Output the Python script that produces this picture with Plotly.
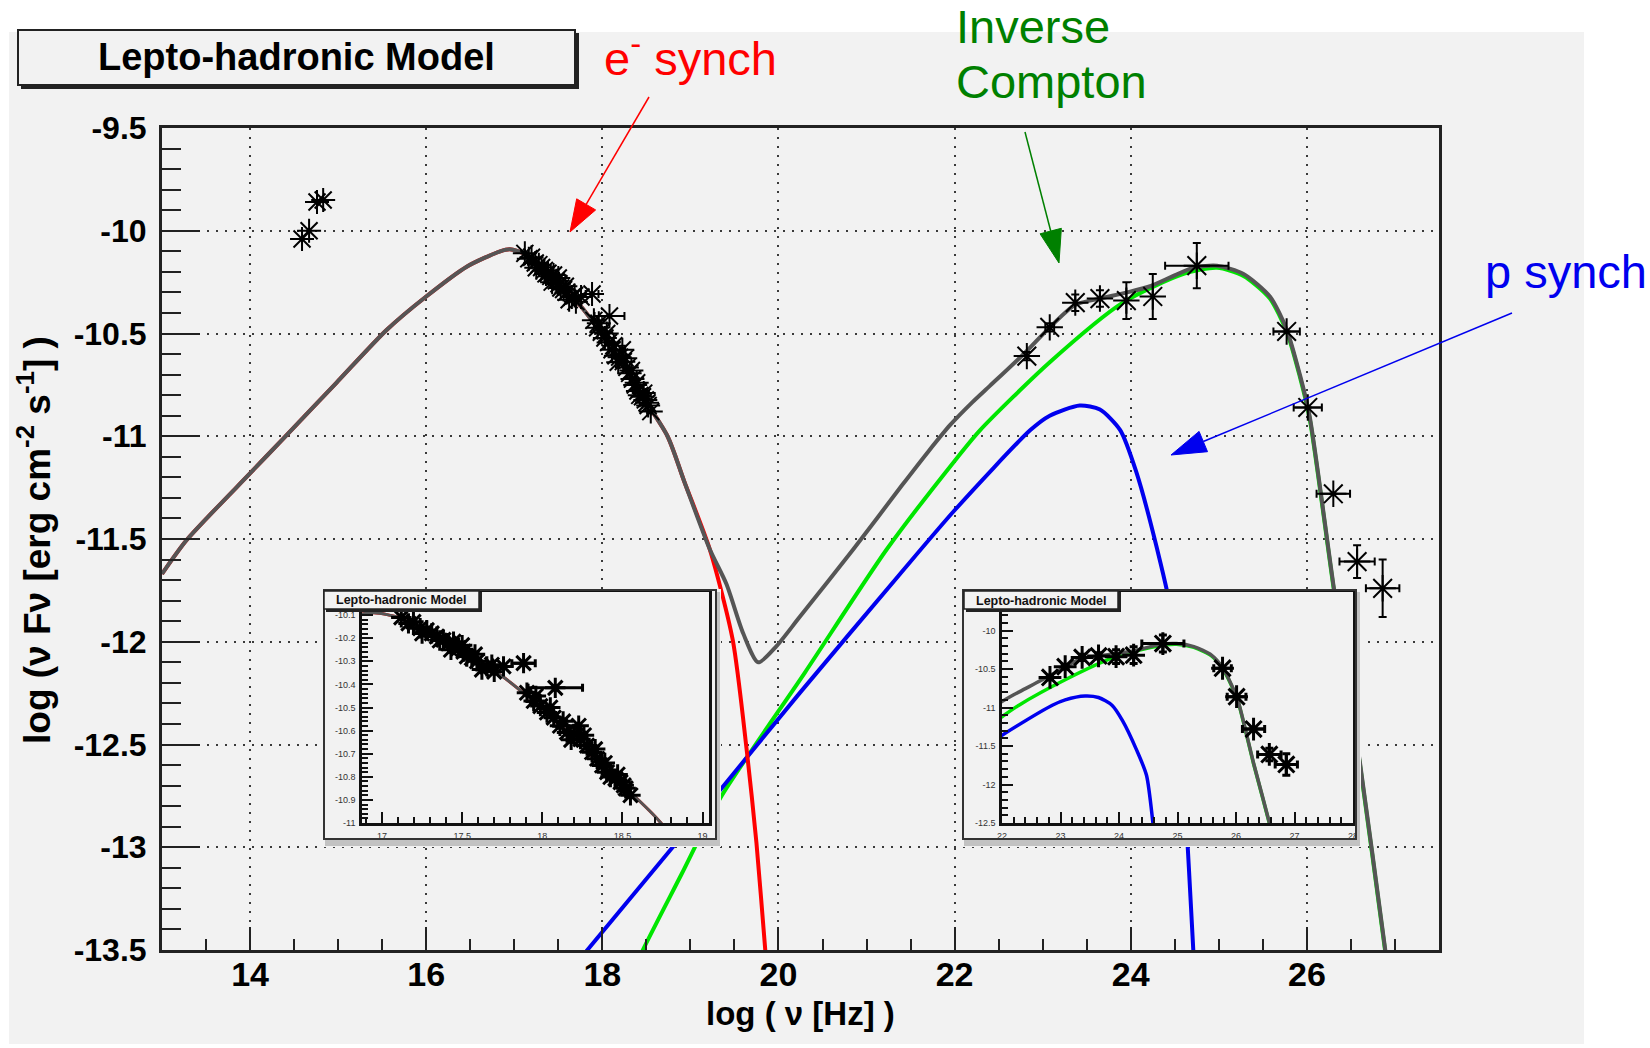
import math
import plotly.graph_objects as go

W, H = 1650, 1048

# ---------------- model curves: log10(nu / Hz) vs log10(nu F_nu) ----------------
total_x = [13.0, 13.28, 14.01, 14.38, 14.98, 15.55, 16.0, 16.46, 16.84, 16.95, 17.12, 17.45,
           17.75, 18.07, 18.38, 18.74, 18.93, 19.22, 19.41, 19.60, 19.77, 19.98, 20.24, 20.85,
           21.40, 21.70, 21.95, 22.20, 22.40, 22.82, 23.08, 23.37, 23.65, 23.96, 24.22, 24.71,
           24.98, 25.28, 25.58, 25.77, 25.92, 26.03, 26.30, 26.60, 26.89, 27.0]
total_y = [-11.67, -11.505, -11.176, -11.01, -10.74, -10.483, -10.32, -10.175, -10.10, -10.09,
           -10.114, -10.245, -10.365, -10.551, -10.758, -11.0, -11.22, -11.55, -11.72, -11.96,
           -12.10, -12.02, -11.88, -11.55, -11.24, -11.075, -10.945, -10.835, -10.755, -10.585,
           -10.47, -10.36, -10.33, -10.30, -10.27, -10.18, -10.17, -10.21, -10.32, -10.48,
           -10.70, -10.90, -11.72, -12.58, -13.5, -13.85]

esyn_x = [13.0, 13.28, 14.01, 14.38, 14.98, 15.55, 16.0, 16.46, 16.84, 16.95, 17.12, 17.45,
          17.75, 18.07, 18.38, 18.74, 18.93, 19.22, 19.48, 19.64, 19.75, 19.85, 19.90]
esyn_y = [-11.67, -11.505, -11.176, -11.01, -10.74, -10.483, -10.32, -10.175, -10.10, -10.09,
          -10.114, -10.245, -10.365, -10.551, -10.758, -11.0, -11.22, -11.55, -11.99, -12.53,
          -12.98, -13.5, -13.75]

ic_x = [18.40, 18.46, 18.90, 19.34, 20.30, 21.23, 22.00, 22.29, 23.08, 23.91, 24.60, 24.98,
        25.28, 25.58, 25.77, 25.92, 26.03, 26.30, 26.60, 26.89, 27.0]
ic_y = [-13.56, -13.5, -13.13, -12.76, -12.15, -11.55, -11.12, -10.97, -10.64, -10.35, -10.21,
        -10.18, -10.22, -10.33, -10.49, -10.71, -10.91, -11.73, -12.59, -13.51, -13.86]

psyn_x = [17.70, 17.83, 19.34, 20.24, 21.38, 22.00, 22.86, 23.08, 23.42, 23.65, 23.88, 24.06,
          24.30, 24.47, 24.58, 24.66, 24.71, 24.75]
psyn_y = [-13.57, -13.5, -12.72, -12.25, -11.67, -11.36, -10.97, -10.90, -10.85, -10.87, -10.97,
          -11.17, -11.55, -11.88, -12.50, -13.10, -13.50, -13.80]

# ---------------- measurements ----------------
opt_x = [14.59, 14.67, 14.76, 14.83]
opt_y = [-10.04, -10.00, -9.86, -9.85]

xray_x = [17.12, 17.165, 17.196, 17.238, 17.25, 17.279, 17.31, 17.342, 17.36, 17.383, 17.415,
          17.43, 17.446, 17.477, 17.50, 17.508, 17.529, 17.56, 17.58, 17.592, 17.623, 17.654,
          17.685, 17.70, 17.758, 17.883, 17.904, 17.946, 17.96, 17.988, 18.029, 18.05, 18.071,
          18.081, 18.11, 18.13, 18.154, 18.18, 18.196, 18.227, 18.238, 18.26, 18.279, 18.31,
          18.33, 18.342, 18.373, 18.39, 18.404, 18.425, 18.456, 18.47, 18.488, 18.508, 18.52,
          18.55]
xray_y = [-10.11, -10.136, -10.129, -10.157, -10.18, -10.165, -10.179, -10.193, -10.21, -10.207,
          -10.222, -10.25, -10.215, -10.243, -10.23, -10.258, -10.279, -10.286, -10.27, -10.30,
          -10.336, -10.322, -10.315, -10.345, -10.322, -10.308, -10.436, -10.472, -10.45, -10.494,
          -10.522, -10.50, -10.544, -10.415, -10.579, -10.56, -10.608, -10.64, -10.615, -10.579,
          -10.637, -10.62, -10.665, -10.694, -10.68, -10.722, -10.751, -10.74, -10.78, -10.801,
          -10.808, -10.79, -10.823, -10.837, -10.85, -10.88]
xray_xerr = [None] * 25 + [0.073] + [None] * 7 + [0.17] + [None] * 22

gam_x = [22.82, 23.08, 23.37, 23.65, 23.95, 24.25, 24.75, 25.77, 26.01, 26.30, 26.57, 26.86]
gam_y = [-10.61, -10.47, -10.35, -10.33, -10.34, -10.32, -10.17, -10.49, -10.86, -11.28,
         -11.61, -11.74]
gam_xerr = [None, 0.05, None, None, None, None, 0.36, 0.15, 0.16, 0.19, 0.20, 0.19]
gam_yerr = [0.02, 0.02, 0.04, 0.04, 0.09, 0.11, 0.11, None, None, None, 0.08, 0.14]

# ---------------- tick labels ----------------
main_xticks = [14, 16, 18, 20, 22, 24, 26]
main_yticks = [-9.5, -10, -10.5, -11, -11.5, -12, -12.5, -13, -13.5]
xin_xticks = [17, 17.5, 18, 18.5, 19]
xin_yticks = [-11, -10.9, -10.8, -10.7, -10.6, -10.5, -10.4, -10.3, -10.2, -10.1]
gin_xticks = [22, 23, 24, 25, 26, 27, 28]
gin_yticks = [-9.5, -10, -10.5, -11, -11.5, -12, -12.5]

GRAY, RED, GREEN, BLUE = "#555555", "#ff0000", "#00e600", "#0000ee"
CANVAS = "#f2f2f2"


def fx(p):
    return p / W


def fy(p):
    return 1 - p / H


def lab(v):
    return ("%g" % v)


fig = go.Figure()


def add_model(xa, ya, lw):
    for xs, ys, col in [(ic_x, ic_y, GREEN), (psyn_x, psyn_y, BLUE),
                        (esyn_x, esyn_y, RED), (total_x, total_y, GRAY)]:
        fig.add_trace(go.Scatter(x=xs, y=ys, mode="lines", xaxis=xa, yaxis=ya,
                                 line=dict(color=col, width=lw, shape="spline", smoothing=0.7),
                                 hoverinfo="skip"))


def add_points(xa, ya, xs, ys, size, lw, xerr=None, yerr=None):
    kw = {}
    if xerr is not None:
        kw["error_x"] = dict(type="data", array=xerr, color="black", thickness=lw, width=4)
    if yerr is not None:
        kw["error_y"] = dict(type="data", array=yerr, color="black", thickness=lw, width=4)
    fig.add_trace(go.Scatter(x=xs, y=ys, mode="markers", xaxis=xa, yaxis=ya,
                             marker=dict(symbol="asterisk-open", size=size, color="black",
                                         line=dict(color="black", width=lw)),
                             hoverinfo="skip", **kw))


# main panel
add_model("x", "y", 4)
add_points("x", "y", opt_x, opt_y, 20, 2)
add_points("x", "y", xray_x, xray_y, 20, 2, xerr=xray_xerr)
add_points("x", "y", gam_x, gam_y, 22, 2, xerr=gam_xerr, yerr=gam_yerr)

# opaque canvases behind the two insets
fig.add_trace(go.Scatter(x=[None], y=[None], xaxis="x2", yaxis="y2", showlegend=False))
fig.add_trace(go.Scatter(x=[None], y=[None], xaxis="x3", yaxis="y3", showlegend=False))

# X-ray zoom inset
add_model("x4", "y4", 3)
add_points("x4", "y4", xray_x, xray_y, 17, 3, xerr=xray_xerr)

# gamma-ray zoom inset
add_model("x5", "y5", 3.5)
add_points("x5", "y5", gam_x, gam_y, 19, 3, xerr=gam_xerr, yerr=gam_yerr)

bold = dict(family="Liberation Sans", color="black", weight="bold")

main_x = dict(domain=[fx(162), fx(1439)], range=[13, 27.5], anchor="y",
              tickmode="array", tickvals=main_xticks, ticktext=[lab(v) for v in main_xticks],
              ticks="inside", ticklen=23, tickwidth=2, tickcolor="#222",
              minor=dict(tickmode="linear", tick0=0, dtick=0.5, ticks="inside", ticklen=11,
                         tickwidth=2, tickcolor="#222", showgrid=False),
              showline=True, mirror=True, linecolor="#222", linewidth=3, zeroline=False,
              showgrid=True, gridcolor="#3a3a3a", gridwidth=2, griddash="2px,7px",
              tickfont=dict(size=34, **bold), ticklabelstandoff=-8, automargin=False)
main_y = dict(domain=[fy(950), fy(128)], range=[-13.5, -9.5], anchor="x",
              tickmode="array", tickvals=main_yticks, ticktext=[lab(v) for v in main_yticks],
              ticks="inside", ticklen=38, tickwidth=2, tickcolor="#222",
              minor=dict(tickmode="linear", tick0=0, dtick=0.1, ticks="inside", ticklen=19,
                         tickwidth=2, tickcolor="#222", showgrid=False),
              showline=True, mirror=True, linecolor="#222", linewidth=3, zeroline=False,
              showgrid=True, gridcolor="#3a3a3a", gridwidth=2, griddash="2px,7px",
              tickfont=dict(size=32, **bold), ticklabelstandoff=6, automargin=False)

cover = dict(visible=False, range=[0, 1], fixedrange=True, automargin=False)

small = dict(family="Liberation Sans", size=9, color="#333")


def inset_axes(dom_x, dom_y, xr, yr, xt, yt, xminor, yminor, xa, ya):
    ax = dict(domain=dom_x, range=xr, anchor=ya, tickmode="array", tickvals=xt,
              ticktext=[lab(v) for v in xt], ticks="inside", ticklen=11, tickwidth=1.5,
              tickcolor="#111",
              minor=dict(tickmode="linear", tick0=0, dtick=xminor, ticks="inside", ticklen=6,
                         tickwidth=1.5, tickcolor="#111", showgrid=False),
              showline=True, mirror=True, linecolor="#111", linewidth=2.5, zeroline=False,
              showgrid=False, tickfont=small, ticklabelstandoff=2, automargin=False)
    ay = dict(domain=dom_y, range=yr, anchor=xa, tickmode="array", tickvals=yt,
              ticktext=[lab(v) for v in yt], ticks="inside", ticklen=11, tickwidth=1.5,
              tickcolor="#111",
              minor=dict(tickmode="linear", tick0=0, dtick=yminor, ticks="inside", ticklen=6,
                         tickwidth=1.5, tickcolor="#111", showgrid=False),
              showline=True, mirror=True, linecolor="#111", linewidth=2.5, zeroline=False,
              showgrid=False, tickfont=small, ticklabelstandoff=2, automargin=False)
    return ax, ay


x4, y4 = inset_axes([fx(362), fx(709)], [fy(823), fy(592)], [16.875, 19.04], [-11, -10],
                    xin_xticks, xin_yticks, 0.1, 0.02, "x4", "y4")
x5, y5 = inset_axes([fx(1002), fx(1353)], [fy(823), fy(592)], [22, 28], [-12.5, -9.5],
                    gin_xticks, gin_yticks, 0.2, 0.1, "x5", "y5")

shapes = []


def rect(x0, y0, x1, y1, layer="above", **kw):
    shapes.append(dict(type="rect", xref="paper", yref="paper", layer=layer,
                       x0=fx(x0), x1=fx(x1), y0=fy(y1), y1=fy(y0), **kw))


def arrow(tail, tip, color, head_len, head_half, width):
    (x0, y0), (x1, y1) = tail, tip
    d = math.hypot(x1 - x0, y1 - y0)
    ux, uy = (x1 - x0) / d, (y1 - y0) / d
    bx, by = x1 - ux * head_len, y1 - uy * head_len
    nx, ny = -uy, ux
    shapes.append(dict(type="line", xref="paper", yref="paper", layer="above",
                       x0=fx(x0), y0=fy(y0), x1=fx(bx), y1=fy(by),
                       line=dict(color=color, width=width)))
    pts = [(x1, y1), (bx + nx * head_half, by + ny * head_half),
           (bx - nx * head_half, by - ny * head_half)]
    path = "M " + " L ".join("%.5f,%.5f" % (fx(a), fy(b)) for a, b in pts) + " Z"
    shapes.append(dict(type="path", xref="paper", yref="paper", layer="above", path=path,
                       fillcolor=color, line=dict(color=color, width=1)))


# canvas background
rect(9, 32, 1584, 1044, layer="below", fillcolor=CANVAS, line=dict(width=0))

# main title box with shadow
rect(21, 84, 579, 89, fillcolor="#222", line=dict(width=0))
rect(574, 33, 579, 89, fillcolor="#222", line=dict(width=0))
rect(18, 30, 575, 85, fillcolor=CANVAS, line=dict(color="#222", width=2))

# inset canvas frames with bevel shadow
for (l, r) in [(324, 716), (963, 1356)]:
    rect(l + 1, 839, r + 4, 846, fillcolor="#c2c2c2", line=dict(width=0))
    rect(r, 592, r + 4, 846, fillcolor="#c2c2c2", line=dict(width=0))
    rect(l, 590, r, 839, line=dict(color="#333", width=2))

# inset title boxes
for (l, r) in [(324, 479), (964, 1118)]:
    rect(l + 2, 608, r + 3, 612, fillcolor="#222", line=dict(width=0))
    rect(r, 592, r + 3, 612, fillcolor="#222", line=dict(width=0))
    rect(l, 591, r, 609, fillcolor=CANVAS, line=dict(color="#222", width=1.5))

# pointer arrows
arrow((649, 97), (570, 232), RED, 32, 11, 1.5)
arrow((1025, 132), (1059, 263), "#008000", 33, 11, 1.5)
arrow((1512, 313), (1171, 455), BLUE, 35, 11, 1.5)

annotations = []


def text(x, y, s, font, xanchor="center", yanchor="middle", angle=0):
    annotations.append(dict(x=fx(x), y=fy(y), xref="paper", yref="paper", text=s,
                            showarrow=False, xanchor=xanchor, yanchor=yanchor,
                            textangle=angle, font=font))


text(296, 57, "Lepto-hadronic Model", dict(size=38, **bold))
text(401, 600, "Lepto-hadronic Model",
     dict(family="Liberation Sans", size=12.5, color="#111", weight="bold"))
text(1041, 601, "Lepto-hadronic Model",
     dict(family="Liberation Sans", size=12.5, color="#111", weight="bold"))

text(800, 1013, "log ( \u03bd [Hz] )", dict(size=33, **bold))
text(34, 540, "log (\u03bd F\u03bd [erg cm<sup>-2</sup> s<sup>-1</sup>] )", dict(size=37, **bold),
     angle=-90)

text(602, 55, "e<sup>-</sup> synch", dict(family="Liberation Sans", size=47, color=RED),
     xanchor="left")
text(954, 27, "Inverse", dict(family="Liberation Sans", size=47, color="#008000"), xanchor="left")
text(954, 82, "Compton", dict(family="Liberation Sans", size=47, color="#008000"), xanchor="left")
text(1483, 271, "p synch", dict(family="Liberation Sans", size=47, color=BLUE), xanchor="left")

fig.update_layout(
    width=W, height=H, autosize=False,
    margin=dict(l=0, r=0, t=0, b=0, pad=0, autoexpand=False),
    paper_bgcolor="white", plot_bgcolor=CANVAS, showlegend=False,
    xaxis=main_x, yaxis=main_y,
    xaxis2=dict(domain=[fx(322), fx(721)], anchor="y2", **cover),
    yaxis2=dict(domain=[fy(847), fy(589)], anchor="x2", **cover),
    xaxis3=dict(domain=[fx(962), fx(1361)], anchor="y3", **cover),
    yaxis3=dict(domain=[fy(847), fy(589)], anchor="x3", **cover),
    xaxis4=x4, yaxis4=y4, xaxis5=x5, yaxis5=y5,
    shapes=shapes, annotations=annotations,
)

fig.write_html("out.html", config={"responsive": False})
